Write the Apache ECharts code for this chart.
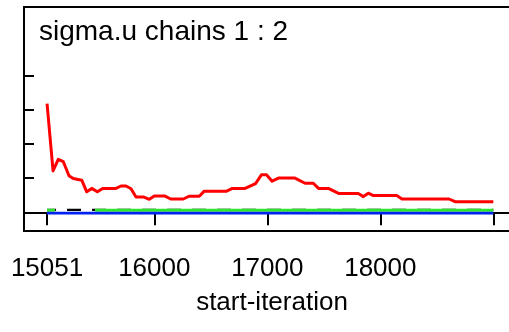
<!DOCTYPE html>
<html>
<head>
<meta charset="utf-8">
<script src="https://cdn.jsdelivr.net/npm/echarts@6/dist/echarts.min.js"></script>
<style>html,body{margin:0;padding:0;background:#fff;}#c{width:509px;height:332px;}</style>
</head>
<body>
<div id="c"></div>
<script>
// ---- data ----
var titleText = 'sigma.u chains 1 : 2';
var xName = 'start-iteration';
var xTickLabels = [15051, 16000, 17000, 18000];
var xTicks = [15051, 16000, 17000, 18000, 19000];
var yTicks = [0, 1, 2, 3, 4];

var iterRed = [15051,15104,15150,15195,15245,15283,15358,15402,15446,15496,15543,15661,15705,15750,15794,15838,15903,15956,16000,16095,16145,16257,16307,16398,16442,16640,16690,16803,16896,16949,16993,17042,17099,17245,17334,17407,17453,17540,17635,17805,17850,17894,17938,18145,18192,18608,18661,19000];
var ratioRed = [3.18,1.21,1.55,1.48,1.07,0.99,0.94,0.60,0.70,0.60,0.70,0.70,0.77,0.77,0.69,0.45,0.45,0.38,0.475,0.475,0.39,0.39,0.47,0.47,0.62,0.62,0.70,0.70,0.84,1.10,1.10,0.91,1.00,1.00,0.85,0.85,0.70,0.70,0.55,0.55,0.46,0.56,0.49,0.49,0.39,0.39,0.31,0.31];

var iterGreen = [15051, 15121, 15300, 15475, 19000];
var pooledGreen = [0.06, 0.06, null, 0.06, 0.06];

var iterBlack = [15051, 19000];
var valBlack = [0.07, 0.07];

var iterBlue = [15051, 19000];
var withinBlue = [-0.02, -0.02];

function pairs(xs, ys) {
  return xs.map(function (x, i) { return [x, ys[i] === null ? '-' : ys[i]]; });
}

var FONT = "'Liberation Sans', Arial, sans-serif";
var chart = echarts.init(document.getElementById('c'), null, {renderer: 'canvas'});
chart.setOption({
  animation: false,
  backgroundColor: '#fff',
  title: {
    text: titleText,
    left: 34, top: 13,
    textStyle: {fontFamily: FONT, fontSize: 28, fontWeight: 'normal', color: '#000'}
  },
  grid: {
    left: 24, width: 496, top: 7, height: 224,
    outerBoundsMode: 'none', containLabel: false,
    show: true, borderColor: '#000', borderWidth: 2, backgroundColor: 'transparent'
  },
  xAxis: {
    type: 'value', min: 14847, max: 19236,
    name: xName, nameLocation: 'middle', nameGap: 59,
    nameTextStyle: {fontFamily: FONT, fontSize: 26, color: '#000'},
    axisLine: {show: true, lineStyle: {color: '#000', width: 2}},
    axisTick: {show: true, inside: false, length: 13, lineStyle: {color: '#000', width: 2}, customValues: xTicks},
    axisLabel: {show: true, margin: 25, fontFamily: FONT, fontSize: 26, color: '#000', customValues: xTickLabels,
      formatter: function (v) { return String(v); }},
    splitLine: {show: false}
  },
  yAxis: {
    type: 'value', min: -0.545, max: 6.0,
    axisLine: {show: true, lineStyle: {color: '#000', width: 2}},
    axisTick: {show: true, inside: true, length: 10, lineStyle: {color: '#000', width: 2}, customValues: yTicks},
    axisLabel: {show: false},
    splitLine: {show: false}
  },
  series: [
    {type: 'line', data: pairs(iterBlack, valBlack), showSymbol: false, silent: true,
     lineStyle: {color: '#000', width: 2.2, type: [14, 11], dashOffset: 5}},
    {type: 'line', data: pairs(iterGreen, pooledGreen), showSymbol: false, silent: true, connectNulls: false,
     lineStyle: {color: '#2ee62e', width: 3}},
    {type: 'line', data: pairs(iterBlue, withinBlue), showSymbol: false, silent: true,
     lineStyle: {color: '#0022ee', width: 2.8}},
    {type: 'line', data: pairs(iterRed, ratioRed), showSymbol: false, silent: true,
     lineStyle: {color: '#ff0000', width: 3, join: 'round'}}
  ]
});
</script>
</body>
</html>
